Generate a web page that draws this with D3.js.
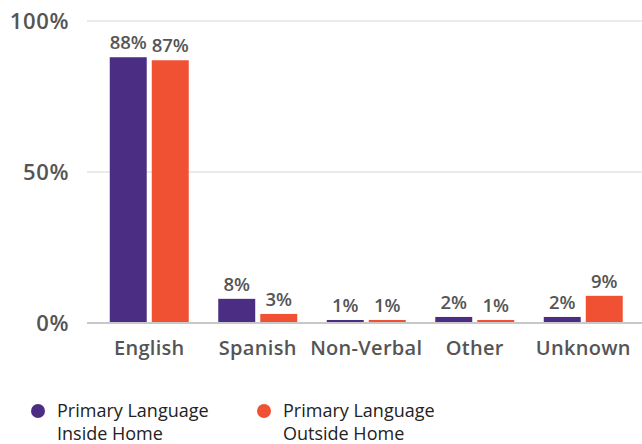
<!DOCTYPE html>
<html>
<head>
<meta charset="utf-8">
<script src="https://cdn.jsdelivr.net/npm/d3@7"></script>
<style>
  html, body { margin: 0; padding: 0; background: #fff; }
  svg { display: block; }
  text { font-family: "Open Sans", "Noto Sans", sans-serif; }
</style>
</head>
<body>
<svg id="chart" width="642" height="444"></svg>
<script>
// Share of people by primary language, inside vs outside the home
const categories = ["English", "Spanish", "Non-Verbal", "Other", "Unknown"];
const insideHome = [88, 8, 1, 2, 2];
const outsideHome = [87, 3, 1, 1, 9];
const seriesNames = ["Primary Language\nInside Home", "Primary Language\nOutside Home"];
const yTicks = [0, 50, 100];

const colors = ["#4b2e83", "#f15133"];
const series = [insideHome, outsideHome];

const svg = d3.select("#chart");

const y = d3.scaleLinear().domain([0, 100]).range([323, 21]);
const x0 = d3.scaleBand().domain(categories).range([95, 637.5]).paddingInner(0.272).paddingOuter(0.136);
const x1 = d3.scaleBand().domain([0, 1]).range([0, x0.bandwidth()]).paddingInner(0.12);

// gridlines and y tick labels
const yAxis = d3.axisLeft(y).tickValues(yTicks).tickSize(0).tickFormat(d => d + "%");
const gy = svg.append("g").attr("transform", "translate(69,0)").call(yAxis);
gy.select(".domain").remove();
gy.selectAll("text")
  .attr("x", 0)
  .attr("dy", "0.36em")
  .attr("fill", "#555")
  .style("font-size", "22px")
  .style("font-weight", 600)
  .style("letter-spacing", "0.6px");

svg.append("g").selectAll("line")
  .data(yTicks)
  .join("line")
  .attr("x1", 87).attr("x2", 642)
  .attr("y1", d => y(d)).attr("y2", d => y(d))
  .attr("stroke", d => d === 0 ? "#c8c8c8" : "#d8d8d8")
  .attr("stroke-width", d => d === 0 ? 2 : 1.2);

// bars
const groups = svg.append("g").selectAll("g")
  .data(categories)
  .join("g")
  .attr("transform", d => `translate(${x0(d)},0)`);

groups.selectAll("rect")
  .data((d, i) => series.map((s, k) => ({ k, v: s[i] })))
  .join("rect")
  .attr("x", d => x1(d.k))
  .attr("width", x1.bandwidth())
  .attr("y", d => y(d.v))
  .attr("height", d => y(0) - y(d.v) - 1)
  .attr("fill", d => colors[d.k]);

groups.selectAll("text.val")
  .data((d, i) => series.map((s, k) => ({ k, v: s[i] })))
  .join("text")
  .attr("class", "val")
  .attr("x", d => x1(d.k) + x1.bandwidth() / 2)
  .attr("y", d => y(d.v) - 8)
  .attr("text-anchor", "middle")
  .attr("fill", "#555")
  .style("font-size", "18.5px")
  .style("font-weight", 600)
  .text(d => d.v + "%");

// category axis
const xAxis = d3.axisBottom(x0).tickSize(0);
const gx = svg.append("g").attr("transform", "translate(0,323)").call(xAxis);
gx.select(".domain").remove();
gx.selectAll("text")
  .attr("y", 32)
  .attr("dy", 0)
  .attr("fill", "#555")
  .style("font-size", "20px")
  .style("font-weight", 600)
  .style("letter-spacing", "0.3px");

// legend
const legend = svg.append("g").selectAll("g")
  .data(seriesNames)
  .join("g")
  .attr("transform", (d, i) => `translate(${[38, 264][i]},411)`);

legend.append("circle")
  .attr("r", 7)
  .attr("fill", (d, i) => colors[i]);

legend.append("text")
  .attr("x", 19)
  .attr("y", 6)
  .attr("fill", "#222")
  .style("font-size", "18px")
  .selectAll("tspan")
  .data(d => d.split("\n"))
  .join("tspan")
  .attr("x", 19)
  .attr("dy", (d, i) => i === 0 ? 0 : 23)
  .text(d => d);
</script>
</body>
</html>
